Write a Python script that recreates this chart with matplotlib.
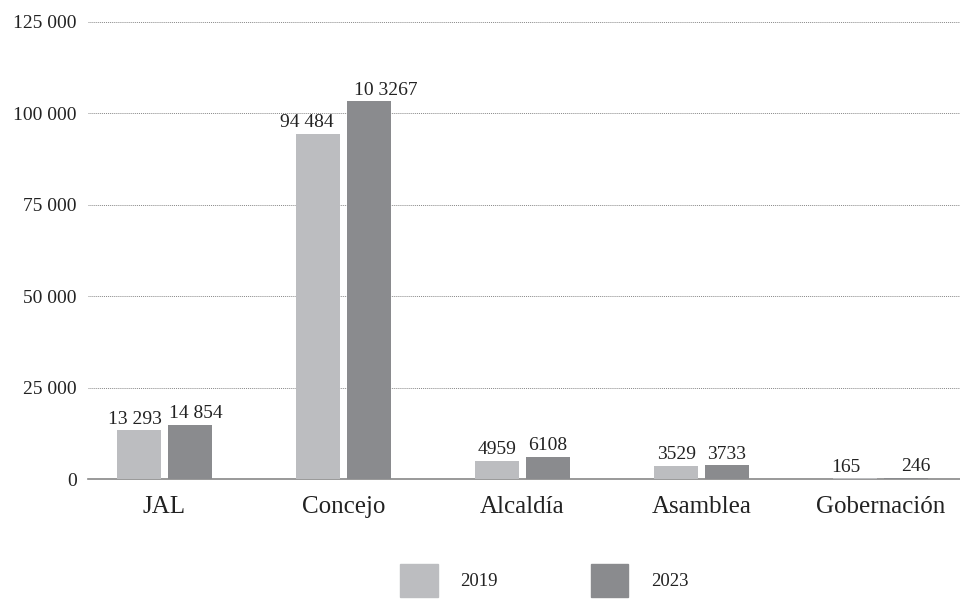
import matplotlib.pyplot as plt
import numpy as np
from matplotlib.patches import Patch

categorias = ['JAL', 'Concejo', 'Alcaldía', 'Asamblea', 'Gobernación']
valores_2019 = [13293, 94484, 4959, 3529, 165]
valores_2023 = [14854, 103267, 6108, 3733, 246]
etiquetas_2019 = ['13 293', '94 484', '4959', '3529', '165']
etiquetas_2023 = ['14 854', '10 3267', '6108', '3733', '246']
ticks_y = [0, 25000, 50000, 75000, 100000, 125000]
ticks_y_txt = ['0', '25 000', '50 000', '75 000', '100 000', '125 000']

color_2019 = '#bcbdc0'
color_2023 = '#8a8b8e'
color_texto = '#222222'

# pequeños corrimientos horizontales (en puntos) de las etiquetas de valor
ajuste_2019 = [-3, -8, 0, 0, -7]
ajuste_2023 = [4, 12, 0, 0, 7]

plt.rcParams['font.family'] = ['Liberation Serif', 'DejaVu Serif']

fig = plt.figure(figsize=(9.6, 5.99), dpi=100)
ax = fig.add_axes([0.0917, 0.2003, 0.9083, 0.763])

x = np.arange(len(categorias))
ancho = 0.246
desp = 0.142

b1 = ax.bar(x - desp, valores_2019, ancho, color=color_2019, zorder=3)
b2 = ax.bar(x + desp, valores_2023, ancho, color=color_2023, zorder=3)

# etiquetas de valor sobre cada barra
for barras, textos, ajustes in ((b1, etiquetas_2019, ajuste_2019),
                                (b2, etiquetas_2023, ajuste_2023)):
    for rect, txt, dx in zip(barras, textos, ajustes):
        ax.annotate(txt, (rect.get_x() + rect.get_width() / 2, rect.get_height()),
                    xytext=(dx, 2), textcoords='offset points',
                    ha='center', va='bottom', fontsize=14, color=color_texto)

ax.set_xlim(-0.427, 4.444)
ax.set_ylim(0, 125000)
ax.set_yticks(ticks_y)
ax.set_yticklabels(ticks_y_txt, fontsize=14, color=color_texto)
ax.set_xticks(x)
ax.set_xticklabels(categorias, fontsize=18, color=color_texto)
ax.tick_params(axis='y', length=0, pad=8)
ax.tick_params(axis='x', length=0, pad=12)

for v in ticks_y[1:]:
    ax.axhline(v, color='#888888', lw=0.7, ls=(0, (1, 1)), zorder=1)

for s in ['top', 'right', 'left']:
    ax.spines[s].set_visible(False)
ax.spines['bottom'].set_color('#888888')
ax.spines['bottom'].set_linewidth(1.2)

handles = [Patch(color=color_2019, label='2019'), Patch(color=color_2023, label='2023')]
fig.legend(handles=handles, loc='lower center', bbox_to_anchor=(0.567, -0.025), ncol=2,
           frameon=False, fontsize=13.5, handlelength=2.0, handleheight=2.33,
           handletextpad=1.2, columnspacing=4.95, labelcolor=color_texto)

fig.savefig('out.png', dpi=100)
